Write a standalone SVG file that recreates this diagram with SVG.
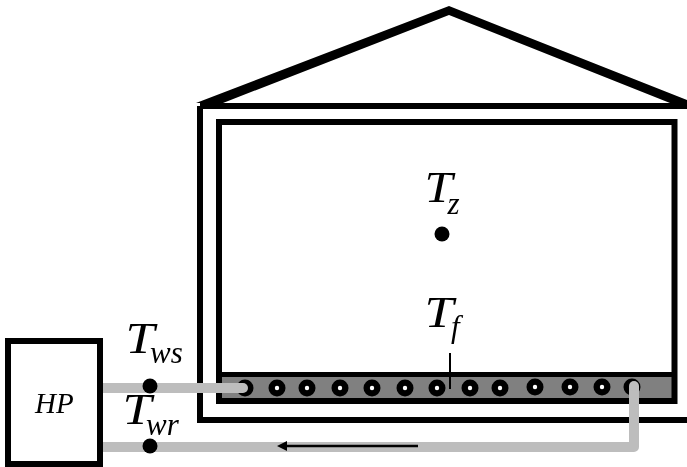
<svg xmlns="http://www.w3.org/2000/svg" width="687" height="467" viewBox="0 0 687 467">
<style>
.w{fill:none;stroke:#000;stroke-width:6}
.p{fill:none;stroke:#bdbdbd;stroke-width:10}
.d{fill:#000}
.c{fill:#000}
.h{fill:#fff}
text{font-family:"Liberation Serif","Times New Roman",serif;font-style:italic;fill:#000}
.t{font-size:44px}
.s{font-size:31px}
</style>
<defs><filter id="soft" filterUnits="userSpaceOnUse" x="0" y="0" width="687" height="467"><feGaussianBlur stdDeviation="0.45"/></filter></defs>
<rect width="687" height="467" fill="#fff"/>
<g filter="url(#soft)">
<g id="building">
<path d="M196 103L449 6L687 100V107L670 103L449 15L223 103Z" fill="#000"/>
<path class="w" d="M200 106H687M200 106V420H687"/>
<rect x="222" y="377" width="450" height="21" fill="#808080"/>
<rect class="w" x="219" y="122" width="455.500" height="279"/>
<path d="M219 374.500H675" fill="none" stroke="#000" stroke-width="5"/>
</g>
<g id="floor-pipes">
<g id="pipe-0"><circle class="c" cx="245" cy="388" r="8.500"/></g>
<circle class="c" cx="277" cy="388" r="8.500"/><circle class="h" cx="277" cy="388" r="2.200"/>
<circle class="c" cx="307" cy="388" r="8.500"/><circle class="h" cx="307" cy="388" r="2.200"/>
<circle class="c" cx="340" cy="388" r="8.500"/><circle class="h" cx="340" cy="388" r="2.200"/>
<circle class="c" cx="372" cy="388" r="8.500"/><circle class="h" cx="372" cy="388" r="2.200"/>
<circle class="c" cx="405" cy="388" r="8.500"/><circle class="h" cx="405" cy="388" r="2.200"/>
<circle class="c" cx="437" cy="388" r="8.500"/><circle class="h" cx="437" cy="388" r="2.200"/>
<circle class="c" cx="470" cy="388" r="8.500"/><circle class="h" cx="470" cy="388" r="2.200"/>
<circle class="c" cx="500" cy="388" r="8.500"/><circle class="h" cx="500" cy="388" r="2.200"/>
<circle class="c" cx="535" cy="387" r="8.500"/><circle class="h" cx="535" cy="387" r="2.200"/>
<circle class="c" cx="570" cy="387" r="8.500"/><circle class="h" cx="570" cy="387" r="2.200"/>
<circle class="c" cx="602" cy="387" r="8.500"/><circle class="h" cx="602" cy="387" r="2.200"/>
<circle class="c" cx="632" cy="387" r="8.500"/>
</g>
<g id="connectors">
<path class="p" d="M103 388H243"/>
<circle cx="243" cy="388" r="5" fill="#bdbdbd"/>
<path class="p" d="M103 447H634V386" stroke-linejoin="round"/>
<circle cx="634" cy="386" r="5" fill="#bdbdbd"/>
<path d="M418 446H284" stroke="#000" stroke-width="2.500" fill="none"/>
<path d="M277 446L287 441V451Z" fill="#000"/>
<path d="M450 353V389" stroke="#000" stroke-width="2" fill="none"/>
</g>
<g id="hp"><rect x="8" y="341" width="92" height="123" fill="#fff" stroke="#000" stroke-width="6"/><text x="35" y="413" font-size="29">HP</text></g>
<g id="tws"><circle class="d" cx="150" cy="386" r="7.500"/><text class="t" x="125.500" y="353" textLength="29" lengthAdjust="spacingAndGlyphs">T</text><text class="s" x="150" y="363">ws</text></g>
<g id="twr"><circle class="d" cx="150" cy="446" r="7.500"/><text class="t" x="122.500" y="424" textLength="29" lengthAdjust="spacingAndGlyphs">T</text><text class="s" x="146" y="435">wr</text></g>
<g id="tz"><circle class="d" cx="442" cy="234" r="7.500"/><text class="t" x="424.500" y="202" textLength="28" lengthAdjust="spacingAndGlyphs">T</text><text class="s" x="447.500" y="214">z</text></g>
<g id="tf"><text class="t" x="424.500" y="327" textLength="29" lengthAdjust="spacingAndGlyphs">T</text><text class="s" x="451" y="337">f</text></g>
</g>
</svg>
